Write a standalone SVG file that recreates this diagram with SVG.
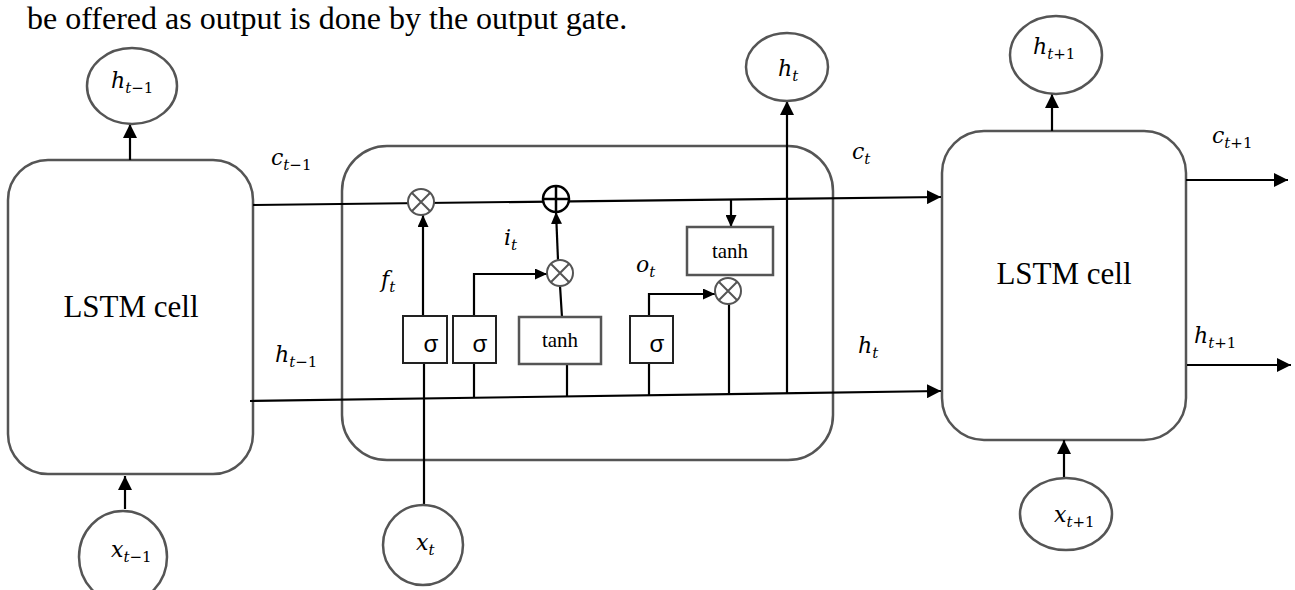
<svg xmlns="http://www.w3.org/2000/svg" width="1295" height="590" viewBox="0 0 1295 590">
<defs>
<marker id="ah" viewBox="0 0 14 14" refX="14" refY="7" markerWidth="14" markerHeight="14" markerUnits="userSpaceOnUse" orient="auto"><path d="M0,0 L14,7 L0,14 z" fill="#000"/></marker>
<marker id="ahs" viewBox="0 0 12 11" refX="12" refY="5.5" markerWidth="12" markerHeight="11" markerUnits="userSpaceOnUse" orient="auto"><path d="M0,0 L12,5.5 L0,11 z" fill="#000"/></marker>
</defs>
<style>
.cell{fill:#fff;stroke:#555;stroke-width:2.5}
.circ{fill:#fff;stroke:#555;stroke-width:2.5}
.op{fill:#fff;stroke:#555;stroke-width:2}
.opx{stroke:#555;stroke-width:2}
.plus{fill:#fff;stroke:#000;stroke-width:2.5}
.plusx{stroke:#000;stroke-width:2.5}
.sig{fill:#fff;stroke:#222;stroke-width:2}
.tb{fill:#fff;stroke:#555;stroke-width:2.5}
.ln{fill:none;stroke:#000;stroke-width:2.2}
.m{font-family:"DejaVu Serif",serif;font-style:italic;font-size:22px;fill:#000}
.s{font-size:15px}
.up{font-style:normal}
.lstm{font-family:"Liberation Serif",serif;font-size:31px;text-anchor:middle}
.tanh{font-family:"Liberation Serif",serif;font-size:21px;text-anchor:middle}
.sg{font-family:"Liberation Sans",sans-serif;font-size:24px;text-anchor:middle}
.top{font-family:"Liberation Serif",serif;font-size:32px}
</style>

<text class="top" x="27" y="29">be offered as output is done by the output gate.</text>

<g id="cell-prev"><rect class="cell" x="8" y="160" width="245" height="314" rx="40"/><text class="lstm" x="131" y="317">LSTM cell</text></g>
<g id="cell-mid"><rect class="cell" x="342" y="146" width="491" height="314" rx="45"/></g>
<g id="cell-next"><rect class="cell" x="942" y="131" width="244" height="309" rx="42"/><text class="lstm" x="1064" y="284">LSTM cell</text></g>

<g id="connectors">
<path class="ln" d="M253,205 L941,197" marker-end="url(#ah)"/>
<path class="ln" d="M250,401 L941,391" marker-end="url(#ah)"/>
<path class="ln" d="M130,160 L130,124" marker-end="url(#ah)"/>
<path class="ln" d="M125,509 L125,476" marker-end="url(#ah)"/>
<path class="ln" d="M424,505 L424,363"/>
<path class="ln" d="M423,316 L423,215" marker-end="url(#ahs)"/>
<path class="ln" d="M474,397 L474,363"/>
<path class="ln" d="M474,316 L474,274 L547,274" marker-end="url(#ahs)"/>
<path class="ln" d="M567,396 L567,364"/>
<path class="ln" d="M562,317 L560,286"/>
<path class="ln" d="M558,260 L556,212" marker-end="url(#ahs)"/>
<path class="ln" d="M649,395 L649,363"/>
<path class="ln" d="M649,316 L649,294 L715,294" marker-end="url(#ahs)"/>
<path class="ln" d="M731,199 L731,227" marker-end="url(#ahs)"/>
<path class="ln" d="M729,304 L729,394"/>
<path class="ln" d="M787,393 L787,101" marker-end="url(#ah)"/>
<path class="ln" d="M1052,131 L1052,94" marker-end="url(#ah)"/>
<path class="ln" d="M1064,477 L1064,440" marker-end="url(#ah)"/>
<path class="ln" d="M1186,180 L1288,180" marker-end="url(#ah)"/>
<path class="ln" d="M1187,365 L1291,365" marker-end="url(#ah)"/>
</g>

<g id="sigma-f"><rect class="sig" x="403" y="316" width="44" height="47"/><text class="sg" x="431" y="352">σ</text></g>
<g id="sigma-i"><rect class="sig" x="453" y="316" width="43" height="47"/><text class="sg" x="480" y="352">σ</text></g>
<g id="tanh-c"><rect class="tb" x="519" y="317" width="82" height="47"/><text class="tanh" x="560" y="347">tanh</text></g>
<g id="sigma-o"><rect class="sig" x="630" y="316" width="43" height="47"/><text class="sg" x="657" y="352">σ</text></g>
<g id="tanh-h"><rect class="tb" x="687" y="227" width="86" height="48"/><text class="tanh" x="730" y="258">tanh</text></g>

<g id="mul-f"><circle class="op" cx="421" cy="202" r="13"/><path class="opx" d="M411.8,192.8 L430.2,211.2 M430.2,192.8 L411.8,211.2"/></g>
<g id="add-c"><circle class="plus" cx="556" cy="199" r="13"/><path class="plusx" d="M543,199 L569,199 M556,186 L556,212"/></g>
<g id="mul-i"><circle class="op" cx="560" cy="273" r="13"/><path class="opx" d="M550.8,263.8 L569.2,282.2 M569.2,263.8 L550.8,282.2"/></g>
<g id="mul-o"><circle class="op" cx="728" cy="291" r="13"/><path class="opx" d="M718.8,281.8 L737.2,300.2 M737.2,281.8 L718.8,300.2"/></g>

<g id="h-prev-out"><ellipse class="circ" cx="132" cy="86" rx="45" ry="38"/><text class="m" x="111" y="88">h<tspan class="s" dy="5">t</tspan><tspan class="s up">−1</tspan></text></g>
<g id="x-prev"><ellipse class="circ" cx="123" cy="557" rx="44" ry="46"/><text class="m" x="111" y="557">x<tspan class="s" dy="5">t</tspan><tspan class="s up">−1</tspan></text></g>
<g id="x-t"><ellipse class="circ" cx="423" cy="545" rx="40" ry="40"/><text class="m" x="416" y="550">x<tspan class="s" dy="5">t</tspan></text></g>
<g id="h-t-out"><ellipse class="circ" cx="787" cy="67" rx="41" ry="34"/><text class="m" x="778" y="76">h<tspan class="s" dy="5">t</tspan></text></g>
<g id="h-next-out"><ellipse class="circ" cx="1056" cy="55" rx="46" ry="39"/><text class="m" x="1033" y="54">h<tspan class="s" dy="5">t</tspan><tspan class="s up">+1</tspan></text></g>
<g id="x-next"><ellipse class="circ" cx="1066" cy="514" rx="46" ry="36"/><text class="m" x="1054" y="522">x<tspan class="s" dy="5">t</tspan><tspan class="s up">+1</tspan></text></g>

<g id="labels">
<text class="m" x="271" y="165">c<tspan class="s" dy="5">t</tspan><tspan class="s up">−1</tspan></text>
<text class="m" x="275" y="362">h<tspan class="s" dy="5">t</tspan><tspan class="s up">−1</tspan></text>
<text class="m" x="852" y="159">c<tspan class="s" dy="5">t</tspan></text>
<text class="m" x="858" y="353">h<tspan class="s" dy="5">t</tspan></text>
<text class="m" x="1212" y="143">c<tspan class="s" dy="5">t</tspan><tspan class="s up">+1</tspan></text>
<text class="m" x="1194" y="343">h<tspan class="s" dy="5">t</tspan><tspan class="s up">+1</tspan></text>
<text class="m" x="381" y="287">f<tspan class="s" dy="5">t</tspan></text>
<text class="m" x="504" y="245">i<tspan class="s" dy="5">t</tspan></text>
<text class="m" x="636" y="272">o<tspan class="s" dy="5">t</tspan></text>
</g>
</svg>
